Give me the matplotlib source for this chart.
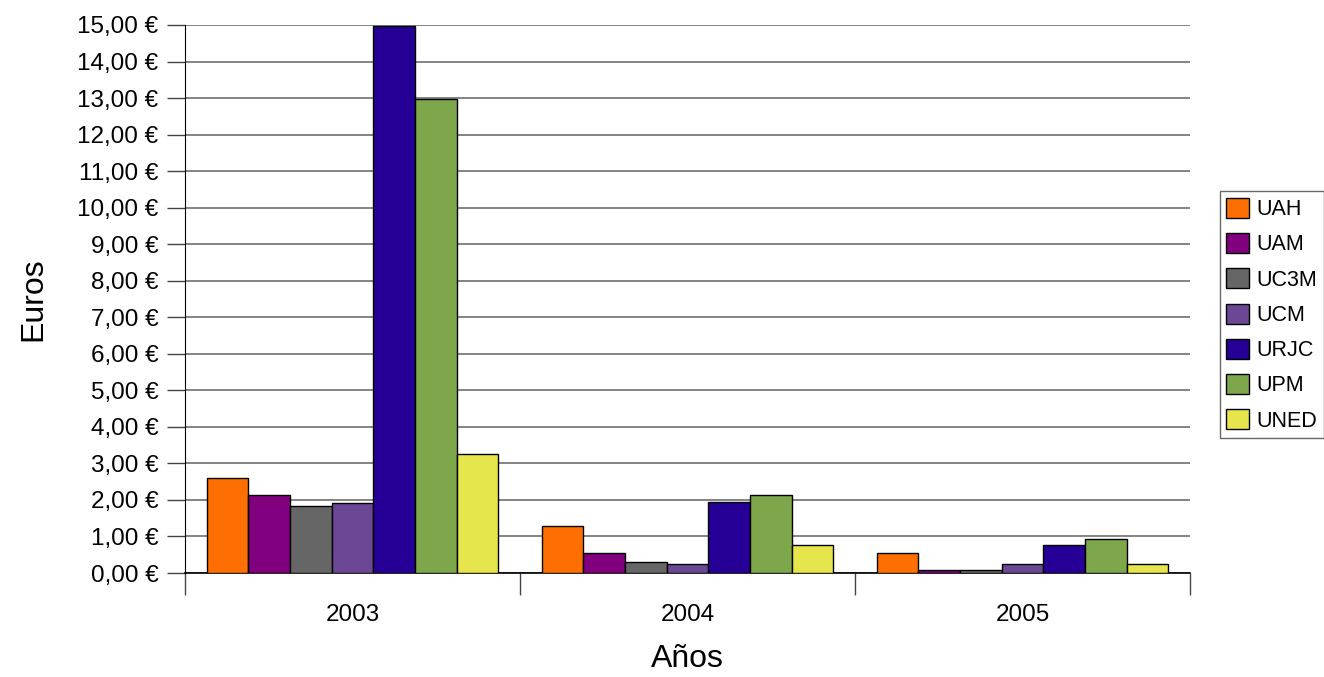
import matplotlib.pyplot as plt
import numpy as np

plt.rcParams['font.family'] = ['Liberation Sans', 'DejaVu Sans']

years = ["2003", "2004", "2005"]
universities = ["UAH", "UAM", "UC3M", "UCM", "URJC", "UPM", "UNED"]
colors = ["#FF6E00", "#800080", "#666666", "#6B4796", "#260096", "#7EA64A", "#E6E64C"]

# euros per year, one list per university (2003, 2004, 2005)
uah = [2.59, 1.30, 0.55]
uam = [2.14, 0.54, 0.07]
uc3m = [1.83, 0.31, 0.07]
ucm = [1.91, 0.24, 0.25]
urjc = [14.96, 1.93, 0.78]
upm = [12.97, 2.14, 0.93]
uned = [3.27, 0.77, 0.25]
series = [uah, uam, uc3m, ucm, urjc, upm, uned]

fig = plt.figure(figsize=(13.24, 6.77), dpi=100)
ax = fig.add_axes([0.1397, 0.1536, 0.7591, 0.8095])

x = np.arange(len(years))
width = 0.87 / len(series)
for i, vals in enumerate(series):
    offset = (i - (len(series) - 1) / 2) * width
    ax.bar(x + offset, vals, width, color=colors[i], edgecolor="black",
           linewidth=1, label=universities[i], zorder=3)

ax.set_xlim(-0.5, 2.5)
ax.set_ylim(0, 15)
ax.set_yticks(np.arange(0, 16, 1))
ax.set_yticklabels([("%.2f €" % v).replace(".", ",") for v in range(16)], fontsize=17.5)
ax.yaxis.grid(True, color="#707070", linewidth=1.2, zorder=0)

ax.set_xticks(x)
ax.set_xticklabels(years, fontsize=17.5)
ax.set_xticks([-0.5, 0.5, 1.5, 2.5], minor=True)
ax.tick_params(axis="x", which="major", length=0, pad=22)
ax.tick_params(axis="x", which="minor", length=16, width=1, color="#444444", direction="out")
ax.tick_params(axis="y", length=13, width=1, color="#444444", pad=6)

for s in ["top", "right"]:
    ax.spines[s].set_visible(False)
ax.spines["left"].set_color("black")
ax.spines["bottom"].set_color("black")
ax.spines["bottom"].set_linewidth(1.2)

ax.set_xlabel("Años", fontsize=23, labelpad=13)
ax.set_ylabel("Euros", fontsize=23, labelpad=21)

leg = ax.legend(loc="center left", bbox_to_anchor=(1220 / 1324, 0.535),
                bbox_transform=fig.transFigure, fontsize=15.5,
                frameon=True, fancybox=False, edgecolor="#444444",
                handlelength=1.05, handleheight=1.05, handletextpad=0.35,
                labelspacing=0.6, borderpad=0.3, borderaxespad=0)
leg.get_frame().set_linewidth(1)

fig.savefig("out.png", dpi=100)
